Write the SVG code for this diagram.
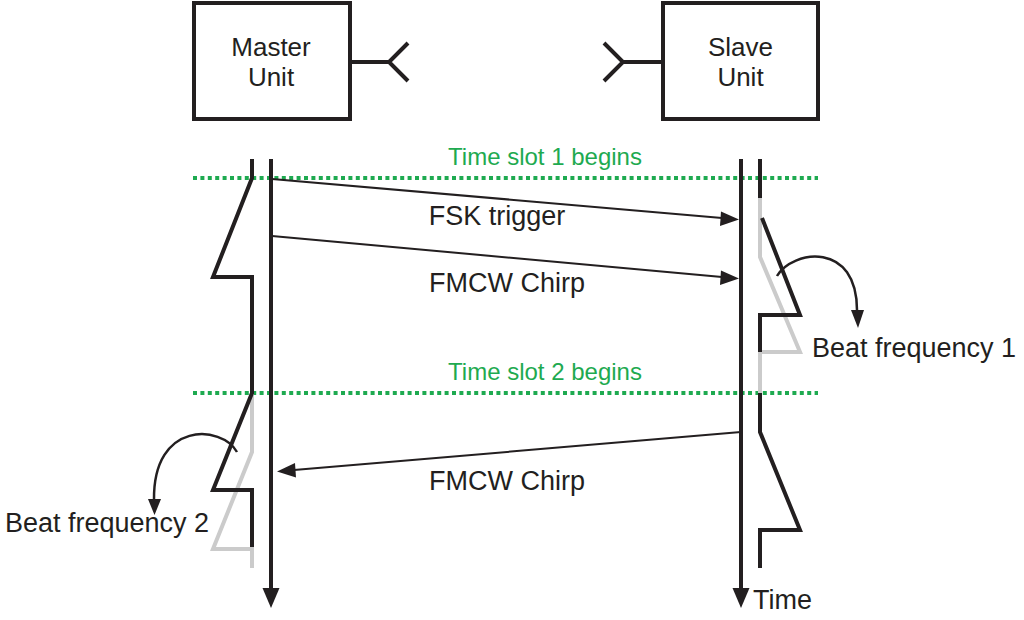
<svg xmlns="http://www.w3.org/2000/svg" width="1024" height="620" viewBox="0 0 1024 620">
<style>
.box{fill:#fff;stroke:#231f20;stroke-width:4}
.ant{fill:none;stroke:#231f20;stroke-width:4}
.tl{fill:none;stroke:#231f20;stroke-width:4}
.saw{fill:none;stroke:#231f20;stroke-width:4;stroke-linejoin:miter}
.gray{fill:none;stroke:#cbcbcb;stroke-width:4;stroke-linejoin:miter}
.msg{fill:none;stroke:#231f20;stroke-width:2}
.curve{fill:none;stroke:#231f20;stroke-width:2.5}
.head{fill:#231f20}
.dot{stroke:#1eaa50;stroke-width:4;stroke-dasharray:4 3.4}
.t{font-family:"Liberation Sans",Arial,sans-serif;font-size:27px;fill:#231f20}
.bt{font-family:"Liberation Sans",Arial,sans-serif;font-size:26px;fill:#231f20}
.g{font-family:"Liberation Sans",Arial,sans-serif;font-size:24px;fill:#1eaa50}
</style>
<g id="master">
<rect class="box" x="194" y="3" width="156" height="116"/>
<text class="bt" x="271" y="56" text-anchor="middle">Master</text>
<text class="bt" x="271" y="86" text-anchor="middle">Unit</text>
<path class="ant" d="M350,62 H389 M408,43 L389,62 L408,81"/>
</g>
<g id="slave">
<rect class="box" x="663" y="3" width="155" height="116"/>
<text class="bt" x="740.5" y="56" text-anchor="middle">Slave</text>
<text class="bt" x="740.5" y="86" text-anchor="middle">Unit</text>
<path class="ant" d="M663,62 H623 M604,43 L623,62 L604,81"/>
</g>
<g id="slot1">
<line class="dot" x1="193" y1="178" x2="818" y2="178"/>
<text class="g" x="545" y="165" text-anchor="middle">Time slot 1 begins</text>
</g>
<g id="slot2">
<line class="dot" x1="193" y1="393" x2="818" y2="393"/>
<text class="g" x="545" y="380" text-anchor="middle">Time slot 2 begins</text>
</g>
<g id="master-timeline">
<line class="tl" x1="271" y1="159" x2="271" y2="592"/>
<polygon class="head" points="262.5,588 279.5,588 271,608"/>
<path class="gray" d="M252,393 V452 L213,549 H252 V568"/>
<path class="saw" d="M252,159 V178 L213,277 H252 V393 L213,490 H252 V547"/>
</g>
<g id="slave-timeline">
<line class="tl" x1="741" y1="159" x2="741" y2="592"/>
<polygon class="head" points="732.5,588 749.5,588 741,608"/>
<path class="gray" d="M760,198 V257 L800,352 H760 V393"/>
<path class="saw" d="M760,159 V198"/>
<path class="saw" d="M762,218 L800,315 H760 V352"/>
<path class="saw" d="M760,393 V432 L800,530 H760 V568"/>
<text class="t" x="753" y="609">Time</text>
</g>
<g id="connectors">
<line class="msg" x1="272" y1="179" x2="722" y2="218"/>
<polygon class="head" points="739,219.5 721,211.5 720,226"/>
<line class="msg" x1="272" y1="236" x2="722" y2="277"/>
<polygon class="head" points="739,278.5 721,270.5 720,285"/>
<line class="msg" x1="741" y1="432" x2="294" y2="470"/>
<polygon class="head" points="277,471.5 295,463 296,477.5"/>
<path class="curve" d="M777,276 C792,250 858,240 857,312"/>
<polygon class="head" points="851,310 864,310 858,328"/>
<path class="curve" d="M237,452 C222,425 153,420 154,500"/>
<polygon class="head" points="148,499 161,499 154.5,515"/>
</g>
<g id="labels">
<text class="t" x="497" y="225" text-anchor="middle">FSK trigger</text>
<text class="t" x="507" y="292" text-anchor="middle">FMCW Chirp</text>
<text class="t" x="507" y="490" text-anchor="middle">FMCW Chirp</text>
<text class="t" x="812" y="357">Beat frequency 1</text>
<text class="t" x="5" y="532">Beat frequency 2</text>
</g>
</svg>
